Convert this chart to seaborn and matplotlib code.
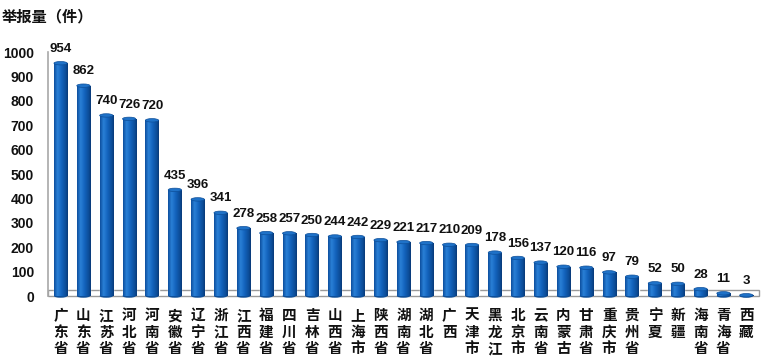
import numpy as np
import pandas as pd
import matplotlib
matplotlib.use("Agg")
import matplotlib.pyplot as plt
import seaborn as sns
from matplotlib.patches import Rectangle, Ellipse
from matplotlib.colors import LinearSegmentedColormap
from matplotlib import font_manager

provinces = ["广东省", "山东省", "江苏省", "河北省", "河南省", "安徽省", "辽宁省", "浙江省",
             "江西省", "福建省", "四川省", "吉林省", "山西省", "上海市", "陕西省", "湖南省",
             "湖北省", "广西", "天津市", "黑龙江", "北京市", "云南省", "内蒙古", "甘肃省",
             "重庆市", "贵州省", "宁夏", "新疆", "海南省", "青海省", "西藏"]
counts = [954, 862, 740, 726, 720, 435, 396, 341, 278, 258, 257, 250, 244, 242, 229, 221,
          217, 210, 209, 178, 156, 137, 120, 116, 97, 79, 52, 50, 28, 11, 3]
yticks = [0, 100, 200, 300, 400, 500, 600, 700, 800, 900, 1000]
title = "举报量（件）"

sns.set_theme(style="white")
plt.rcParams['font.family'] = ['Liberation Sans', 'Noto Sans CJK SC', 'DejaVu Sans']

names = {f.name for f in font_manager.fontManager.ttflist}
if "Liberation Sans Narrow" in names:
    val_family, val_size = ["Liberation Sans Narrow"], 11
else:
    val_family, val_size = ["Liberation Sans"], 9.5

df = pd.DataFrame({"province": provinces, "count": counts})

fig = plt.figure(figsize=(7.68, 3.59), dpi=100)
ax = fig.add_axes([48/768, 1-296/359, (760-48)/768, (296-52)/359])

sns.barplot(data=df, x="province", y="count", color="#1161bb", width=0.58,
            ax=ax, zorder=3, saturation=1)

# floor
ax.add_patch(Rectangle((-0.55, 0), 31.1, 26, facecolor="white", edgecolor="#9a9a9a",
                       lw=1.0, zorder=1, clip_on=False))

# cylinder gradient
cmap = LinearSegmentedColormap.from_list(
    "cyl", [(0.0, "#0d4f9e"), (0.25, "#2a80d6"), (0.55, "#1363bd"), (0.85, "#0c4d98"), (1.0, "#093a78")])
grad = np.linspace(0, 1, 64).reshape(1, -1)
for p, v in zip(ax.patches[:len(counts)], counts):
    x0 = p.get_x(); w = p.get_width()
    im = ax.imshow(grad, extent=[x0, x0 + w, 0, v], aspect="auto", cmap=cmap, zorder=4)
    im.set_clip_path(p)
    cap = Ellipse((x0 + w/2, v), w, 14, facecolor="#1f72c8", edgecolor="#0d4f9a",
                  lw=0.5, zorder=5, clip_on=False)
    ax.add_patch(cap)
    base = Ellipse((x0 + w/2, 0), w, 14, facecolor="#0d4f9a", edgecolor="none",
                   zorder=3.5, clip_on=False)
    ax.add_patch(base)
    ax.annotate(str(v), (x0 + w/2, v), xytext=(0, 6), textcoords="offset points",
                ha="center", va="bottom", fontsize=val_size, fontweight="bold",
                family=val_family, color="#111111", zorder=6, annotation_clip=False)

ax.set_xlim(-0.55, 30.6)
ax.set_ylim(0, 1000)

ax.set_yticks(yticks)
ax.set_yticklabels([str(t) for t in yticks], fontsize=10, fontweight="bold")
ax.set_xticks(range(len(provinces)))
ax.set_xticklabels(["\n".join(p) for p in provinces], fontsize=10.5, fontweight="bold",
                   family=['Noto Sans CJK SC', 'DejaVu Sans'], linespacing=1.05, va="top")
ax.tick_params(axis="y", length=0, pad=10, colors="#111111")
ax.tick_params(axis="x", length=0, pad=8, colors="#111111")
ax.set_xlabel("")
ax.set_ylabel("")

for s in ["top", "right", "bottom"]:
    ax.spines[s].set_visible(False)
ax.spines["left"].set_color("#a8a8a8")
ax.spines["left"].set_linewidth(1.2)

fig.text(2/768, 1-16/359, title, fontsize=11, fontweight="bold",
         family=['Noto Sans CJK SC', 'DejaVu Sans'], va="center", ha="left", color="#111111")

fig.savefig("out.png", dpi=100)
